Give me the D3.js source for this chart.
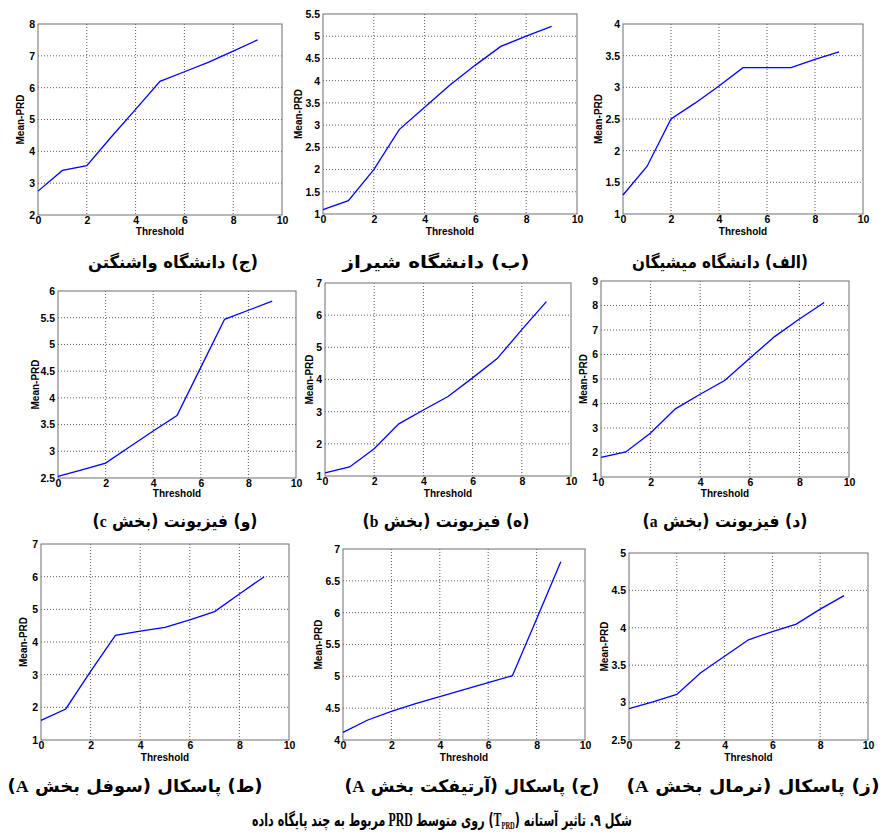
<!DOCTYPE html>
<html lang="fa">
<head>
<meta charset="UTF-8">
<title>Mean-PRD vs Threshold</title>
<style>
  body { margin: 0; background: #fff; }
  .tick text { font-family: "Liberation Sans", Arial, sans-serif; font-weight: bold; font-size: 10.5px; fill: #000; }
  .axis-label { font-family: "Liberation Sans", Arial, sans-serif; font-weight: bold; font-size: 10px; fill: #000; }
  .caption { font-family: "DejaVu Sans", sans-serif; font-weight: bold; fill: #000; }
  .latin { font-family: "Liberation Serif", serif; font-weight: bold; }
</style>
</head>
<body>
<div id="chart"></div>
<script src="https://d3js.org/d3.v7.min.js"></script>
<script>
// threshold values on the x axis
const threshold = [0, 1, 2, 3, 4, 5, 6, 7, 8, 9];

// Mean-PRD series, one per database
const washington = [2.75, 3.4, 3.55, 4.45, 5.32, 6.2, 6.5, 6.8, 7.15, 7.5];
const shiraz = [1.1, 1.3, 2.0, 2.9, 3.4, 3.9, 4.35, 4.77, 5.0, 5.22];
const michigan = [1.3, 1.75, 2.5, 2.75, 3.02, 3.31, 3.31, 3.31, 3.44, 3.56];
const physionetC = [2.53, 2.65, 2.78, 3.08, 3.38, 3.67, 4.57, 5.47, 5.64, 5.81];
const physionetB = [1.1, 1.28, 1.85, 2.62, 3.05, 3.47, 4.05, 4.65, 5.55, 6.42];
const physionetA = [1.8, 2.02, 2.8, 3.78, 4.38, 4.95, 5.85, 6.73, 7.45, 8.12];
const pascalShuffle = [1.6, 1.95, 3.1, 4.2, 4.33, 4.45, 4.68, 4.93, 5.47, 6.0];
const pascalArtifact = [4.12, 4.31, 4.45, 4.57, 4.68, 4.79, 4.9, 5.01, 5.9, 6.8];
const pascalNormal = [2.92, 3.01, 3.11, 3.4, 3.62, 3.84, 3.95, 4.05, 4.25, 4.43];

// y axis ranges and tick steps
const yDomains = [[2, 8], [1, 5.5], [1, 4], [2.5, 6], [1, 7], [1, 9], [1, 7], [4, 7], [2.5, 5]];
const yTickSteps = [1, 0.5, 0.5, 0.5, 1, 1, 1, 0.5, 0.5];
const xTicks = [0, 2, 4, 6, 8, 10];

// sub-figure captions
const captions = [
  "(ج) دانشگاه واشنگتن", "(ب) دانشگاه شیراز", "(الف) دانشگاه میشیگان",
  "(و) فیزیونت (بخش c)", "(ه) فیزیونت (بخش b)", "(د) فیزیونت (بخش a)",
  "(ط) پاسکال (سوفل بخش A)", "(ح) پاسکال (آرتیفکت بخش A)", "(ز) پاسکال (نرمال بخش A)"
];
// figure caption pieces, in visual order from right to left
const figurePieces = [
  {text: "شکل ۹. تاثیر آستانه (", kind: "fa"},
  {text: "PRD", kind: "sub"},
  {text: "T", kind: "latin"},
  {text: ") روی متوسط", kind: "fa"},
  {text: "PRD", kind: "latin"},
  {text: "مربوط به چند پایگاه داده", kind: "fa"}
];

const series = [washington, shiraz, michigan, physionetC, physionetB, physionetA,
                pascalShuffle, pascalArtifact, pascalNormal];

// plot boxes and label positions; cw = caption width
const layout = [
  {l: 38, t: 24, r: 282, b: 215, lab: 20, cx: 173, cy: 268, cw: 170, xl: 235},
  {l: 323, t: 14, r: 577, b: 214, lab: 298, cx: 436, cy: 268, cw: 187, xl: 235},
  {l: 623, t: 24, r: 863, b: 214, lab: 598, cx: 720, cy: 268, cw: 176, xl: 235},
  {l: 58, t: 291, r: 296, b: 478, lab: 35, cx: 175, cy: 527, cw: 165, xl: 497},
  {l: 325, t: 283, r: 571, b: 476, lab: 309, cx: 446, cy: 527, cw: 167, xl: 497},
  {l: 601, t: 281, r: 849, b: 477, lab: 583, cx: 725, cy: 527, cw: 165, xl: 497},
  {l: 41, t: 544, r: 289, b: 740, lab: 23, cx: 135, cy: 792, cw: 255, xl: 761},
  {l: 343, t: 549, r: 585, b: 740, lab: 318, cx: 472, cy: 792, cw: 255, xl: 761},
  {l: 629, t: 553, r: 868, b: 740, lab: 604, cx: 753, cy: 792, cw: 253, xl: 761}
];

const W = 881, H = 839;
const svg = d3.select("#chart").append("svg")
  .attr("width", W).attr("height", H);

function addCaption(str, cx, cy, cw, size) {
  const t = svg.append("text").attr("class", "caption")
    .attr("x", cx).attr("y", cy)
    .attr("text-anchor", "middle").attr("direction", "rtl")
    .style("font-size", size + "px")
    .attr("textLength", cw).attr("lengthAdjust", "spacingAndGlyphs");
  str.split(/([A-Za-z]+)/).forEach(function(part) {
    if (!part) return;
    const sp = t.append("tspan").text(part);
    if (/[A-Za-z]/.test(part)) sp.attr("class", "latin");
  });
  return t;
}

series.forEach(function(values, i) {
  const p = layout[i];
  const x = d3.scaleLinear().domain([0, 10]).range([p.l, p.r]);
  const y = d3.scaleLinear().domain(yDomains[i]).range([p.b, p.t]);
  const yTicks = d3.range(yDomains[i][0], yDomains[i][1] + 1e-9, yTickSteps[i]);
  const g = svg.append("g");

  // dotted grid
  g.selectAll(".vgrid").data(xTicks.slice(1, -1)).enter().append("line")
    .attr("x1", d => x(d)).attr("x2", d => x(d))
    .attr("y1", p.t).attr("y2", p.b)
    .attr("stroke", "#333").attr("stroke-width", 0.8).attr("stroke-dasharray", "1,2");
  g.selectAll(".hgrid").data(yTicks.slice(1, -1)).enter().append("line")
    .attr("y1", d => y(d)).attr("y2", d => y(d))
    .attr("x1", p.l).attr("x2", p.r)
    .attr("stroke", "#333").attr("stroke-width", 0.8).attr("stroke-dasharray", "1,2");

  // axes
  g.append("g").attr("transform", "translate(0," + p.b + ")")
    .call(d3.axisBottom(x).tickValues(xTicks).tickSize(0).tickPadding(2).tickFormat(d3.format("d")))
    .call(s => s.select(".domain").remove());
  g.append("g").attr("transform", "translate(" + p.l + ",0)")
    .call(d3.axisLeft(y).tickValues(yTicks).tickSize(0).tickPadding(3).tickFormat(d => d3.format("~g")(d)))
    .call(s => s.select(".domain").remove());

  // frame
  g.append("rect").attr("x", p.l).attr("y", p.t)
    .attr("width", p.r - p.l).attr("height", p.b - p.t)
    .attr("fill", "none").attr("stroke", "#6e6e6e").attr("stroke-width", 1);

  // data line
  const line = d3.line().x((d, j) => x(threshold[j])).y(d => y(d));
  g.append("path").datum(values)
    .attr("fill", "none").attr("stroke", "#0000ff").attr("stroke-width", 1.3)
    .attr("d", line);

  // axis labels
  g.append("text").attr("class", "axis-label")
    .attr("x", (p.l + p.r) / 2).attr("y", p.xl)
    .attr("text-anchor", "middle").text("Threshold");
  g.append("text").attr("class", "axis-label")
    .attr("transform", "translate(" + p.lab + "," + ((p.t + p.b) / 2) + ") rotate(-90)")
    .attr("text-anchor", "middle").attr("dy", "0.35em").text("Mean-PRD");

  addCaption(captions[i], p.cx, p.cy, p.cw, 17);
});

// figure caption: pieces laid out right to left, then squeezed to the reference width
const figTarget = {cx: 442, y: 826, w: 380};
const figOuter = svg.append("g");
const figG = figOuter.append("g");
let cursor = 0;
figurePieces.forEach(function(pc, k) {
  const t = figG.append("text").attr("class", pc.kind === "fa" ? "caption" : "caption latin")
    .attr("text-anchor", "middle")
    .attr("direction", pc.kind === "fa" ? "rtl" : "ltr")
    .style("font-size", pc.kind === "sub" ? "10px" : (pc.kind === "latin" ? "18px" : "17px"))
    .attr("y", pc.kind === "sub" ? 3 : 0)
    .text(pc.text);
  const w = t.node().getComputedTextLength();
  // space between words, none next to the parentheses
  const gap = (k === 4 || k === 5) ? 5 : 0;
  cursor -= gap;
  t.attr("x", cursor - w / 2);
  cursor -= w;
});
const total = -cursor;
const sx = figTarget.w / total;
figG.attr("transform", "scale(" + sx + ",1) translate(" + (total / 2) + ",0)");
figOuter.attr("transform", "translate(" + figTarget.cx + "," + figTarget.y + ")");
</script>
</body>
</html>
